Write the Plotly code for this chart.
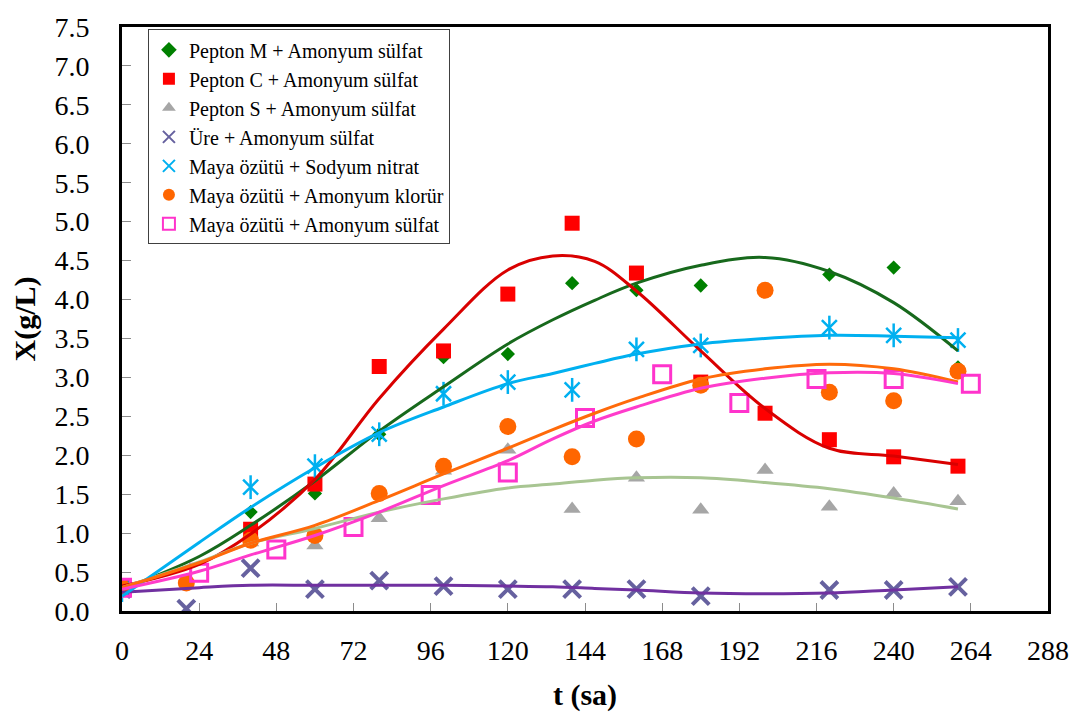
import plotly.graph_objects as go

# Measured biomass X (g/L) against time t (h)
t_pm = [0, 40, 60, 80, 100, 120, 140, 160, 180, 220, 240, 260]
x_pm = [0.30, 1.27, 1.51, 2.27, 3.26, 3.30, 4.21, 4.12, 4.18, 4.32, 4.41, 3.13]

t_pc = [0, 40, 60, 80, 100, 120, 140, 160, 180, 200, 220, 240, 260]
x_pc = [0.30, 1.05, 1.63, 3.14, 3.34, 4.07, 4.98, 4.34, 2.94, 2.54, 2.20, 1.98, 1.86]

t_ps = [0, 40, 60, 80, 100, 120, 140, 160, 180, 200, 220, 240, 260]
x_ps = [0.30, 0.88, 0.84, 1.19, 1.80, 2.07, 1.31, 1.71, 1.30, 1.81, 1.34, 1.51, 1.41]

t_ure = [0, 20, 40, 60, 80, 100, 120, 140, 160, 180, 220, 240, 260]
x_ure = [0.28, 0.03, 0.55, 0.28, 0.39, 0.32, 0.28, 0.28, 0.28, 0.19, 0.27, 0.27, 0.31]

t_msn = [0, 40, 60, 80, 100, 120, 140, 160, 180, 220, 240, 260]
x_msn = [0.27, 1.59, 1.86, 2.27, 2.79, 2.94, 2.84, 3.36, 3.41, 3.64, 3.54, 3.48]

t_mak = [0, 20, 40, 60, 80, 100, 120, 140, 160, 180, 200, 220, 240, 260]
x_mak = [0.30, 0.36, 0.91, 0.97, 1.51, 1.86, 2.37, 1.98, 2.21, 2.90, 4.12, 2.81, 2.70, 3.08]

t_mas = [0, 24, 48, 72, 96, 120, 144, 168, 192, 216, 240, 264]
x_mas = [0.30, 0.49, 0.79, 1.08, 1.49, 1.78, 2.48, 3.04, 2.67, 2.98, 2.98, 2.92]

# Trend curves, read at regular times
t_fit = [0, 24, 40, 60, 80, 100, 120, 134, 147, 160, 180, 200, 220, 240, 260]
f_pm = [0.28, 0.70, 1.10, 1.67, 2.31, 2.88, 3.43, 3.74, 3.99, 4.21, 4.44, 4.54, 4.36, 3.96, 3.34]
f_pc = [0.32, 0.60, 0.99, 1.69, 2.73, 3.62, 4.38, 4.56, 4.49, 4.11, 3.34, 2.60, 2.09, 1.99, 1.88]
f_ps = [0.30, 0.63, 0.87, 1.06, 1.27, 1.44, 1.58, 1.63, 1.68, 1.71, 1.71, 1.65, 1.57, 1.45, 1.31]
f_ure = [0.24, 0.30, 0.33, 0.33, 0.33, 0.33, 0.32, 0.31, 0.29, 0.27, 0.23, 0.22, 0.23, 0.27, 0.31]
f_msn = [0.19, 0.88, 1.33, 1.84, 2.29, 2.62, 2.92, 3.05, 3.18, 3.30, 3.43, 3.50, 3.54, 3.53, 3.51]
f_mak = [0.30, 0.62, 0.87, 1.10, 1.42, 1.76, 2.09, 2.33, 2.54, 2.73, 2.98, 3.11, 3.17, 3.11, 2.94]
f_mas = [0.28, 0.51, 0.72, 0.97, 1.27, 1.61, 1.93, 2.21, 2.44, 2.62, 2.86, 2.99, 3.06, 3.05, 2.92]

names = [
    "Pepton M + Amonyum sülfat",
    "Pepton C + Amonyum sülfat",
    "Pepton S + Amonyum sülfat",
    "Üre + Amonyum sülfat",
    "Maya özütü + Sodyum nitrat",
    "Maya özütü + Amonyum klorür",
    "Maya özütü + Amonyum sülfat",
]

x_ticks = list(range(0, 289, 24))
y_ticks = [i * 0.5 for i in range(16)]

SERIF = "Liberation Serif, Times New Roman, serif"

fig = go.Figure()

# data points (later series are drawn on top)
marker_specs = [
    (t_pm, x_pm, dict(symbol="diamond", size=11, color="#008000")),
    (t_pc, x_pc, dict(symbol="square", size=15, color="#FF0000")),
    (t_ps, x_ps, dict(symbol="triangle-up", size=15, color="#A6A6A6")),
    (t_ure, x_ure, dict(symbol="x-thin", size=17, color="#66619F",
                        line=dict(width=4, color="#66619F"))),
    (t_msn, x_msn, dict(symbol="x-thin", size=15, color="#00B0F0",
                        line=dict(width=2.5, color="#00B0F0"))),
    (t_mak, x_mak, dict(symbol="circle", size=17, color="#FF6600")),
    (t_mas, x_mas, dict(symbol="square-open", size=17, color="#FF33CC",
                        line=dict(width=3, color="#FF33CC"))),
]

for i, (tt, xx, mk) in enumerate(marker_specs):
    fig.add_trace(go.Scatter(x=tt, y=xx, mode="markers", name=names[i],
                             marker=mk, showlegend=True))
    if i == 4:
        # vertical stroke completing the asterisk marker
        fig.add_trace(go.Scatter(x=tt, y=xx, mode="markers", showlegend=False,
                                 marker=dict(symbol="line-ns", size=17, color="#00B0F0",
                                             line=dict(width=2.5, color="#00B0F0")),
                                 hoverinfo="skip"))

# trend curves
curve_specs = [
    (f_pm, "#17691C"),
    (f_pc, "#D90000"),
    (f_ps, "#A8C592"),
    (f_ure, "#7030A0"),
    (f_msn, "#00B0F0"),
    (f_mak, "#FF6A0A"),
    (f_mas, "#FF3BCB"),
]
for f, col in curve_specs:
    fig.add_trace(go.Scatter(x=t_fit, y=f, mode="lines", showlegend=False,
                             line=dict(color=col, width=3, shape="spline", smoothing=1.0),
                             hoverinfo="skip"))

fig.update_layout(
    width=1081, height=719,
    margin=dict(l=122, r=25, t=21, b=107),
    paper_bgcolor="white", plot_bgcolor="white",
    font=dict(family=SERIF, color="black"),
    legend=dict(
        x=0.028, y=0.996, xanchor="left", yanchor="top",
        bgcolor="white", bordercolor="#404040", borderwidth=1,
        font=dict(family=SERIF, size=20, color="black"),
        itemsizing="constant",
    ),
    xaxis=dict(
        range=[0, 288], tickvals=x_ticks, ticktext=[str(v) for v in x_ticks],
        showline=True, mirror=True, linecolor="black", linewidth=3,
        ticks="inside", ticklen=8, tickwidth=1, tickcolor="#8C8C8C",
        showgrid=False, zeroline=False,
        tickfont=dict(family=SERIF, size=28, color="black"),
        ticklabelstandoff=12,
        title=dict(text="<b>t (sa)</b>", font=dict(family=SERIF, size=30, color="black"),
                   standoff=20),
    ),
    yaxis=dict(
        range=[0, 7.5], tickvals=y_ticks, ticktext=[f"{v:.1f}" for v in y_ticks],
        showline=True, mirror=True, linecolor="black", linewidth=3,
        ticks="inside", ticklen=9, tickwidth=1, tickcolor="#8C8C8C",
        showgrid=False, zeroline=False,
        tickfont=dict(family=SERIF, size=28, color="black"),
        ticklabelstandoff=24,
        title=dict(text="<b>X(g/L)</b>", font=dict(family=SERIF, size=30, color="black"),
                   standoff=10),
    ),
)

fig.write_html("out.html")
